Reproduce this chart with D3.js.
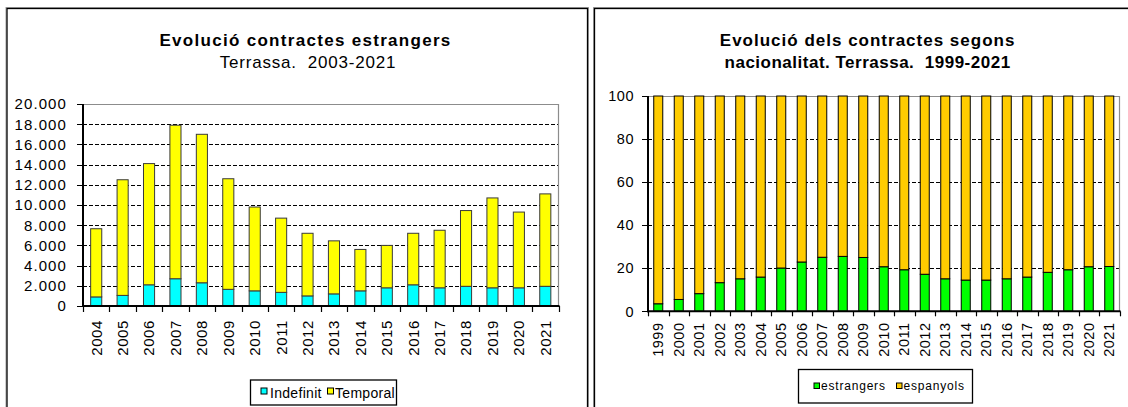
<!DOCTYPE html>
<html>
<head>
<meta charset="utf-8">
<script src="https://cdn.jsdelivr.net/npm/d3@7/dist/d3.min.js"></script>
<style>
  html, body { margin: 0; padding: 0; background: #fff; }
  svg { display: block; font-family: "Liberation Sans", Arial, sans-serif; }
</style>
</head>
<body>
<svg id="chart" width="1128" height="407"></svg>
<script>
// ---------- DATA ----------
const yearsLeft = ["2004","2005","2006","2007","2008","2009","2010","2011","2012","2013","2014","2015","2016","2017","2018","2019","2020","2021"];
const indefinit = [900,1050,2100,2700,2300,1650,1500,1350,1000,1200,1500,1800,2100,1800,1950,1800,1800,1950];
const temporal  = [6750,11450,12000,15200,14700,10950,8300,7350,6200,5250,4100,4200,5100,5700,7500,8900,7500,9150];
const leftTicks = [0,2000,4000,6000,8000,10000,12000,14000,16000,18000,20000];

const yearsRight = ["1999","2000","2001","2002","2003","2004","2005","2006","2007","2008","2009","2010","2011","2012","2013","2014","2015","2016","2017","2018","2019","2020","2021"];
const estrangers = [3.5,5.5,8.2,13.3,15.1,15.9,20.1,22.9,25.1,25.5,25.0,20.7,19.3,17.2,15.1,14.5,14.5,15.1,15.9,18.1,19.3,20.7,20.8];
const espanyols  = [96.5,94.5,91.8,86.7,84.9,84.1,79.9,77.1,74.9,74.5,75.0,79.3,80.7,82.8,84.9,85.5,85.5,84.9,84.1,81.9,80.7,79.3,79.2];
const rightTicks = [0,20,40,60,80,100];

// ---------- HELPERS ----------
const svg = d3.select("#chart");
const caLocale = d3.formatLocale({decimal: ",", thousands: ".", grouping: [3], currency: ["", "€"]});
const fmtThousands = caLocale.format(",d");

function panelFrame(x, y, w, h) {
  svg.append("rect").attr("x", x - 1).attr("y", y - 1).attr("width", w + 2).attr("height", h + 2)
    .attr("fill", "none").attr("stroke", "#a0a0a0").attr("stroke-width", 1);
  svg.append("rect").attr("x", x).attr("y", y).attr("width", w).attr("height", h)
    .attr("fill", "#fff").attr("stroke", "#000").attr("stroke-width", 1.3);
}

function drawChart(cfg) {
  const g = svg.append("g");
  const x = d3.scaleBand().domain(cfg.cats).range([cfg.x0, cfg.x1]).padding(0);
  const y = d3.scaleLinear().domain([0, cfg.max]).range([cfg.yb, cfg.yt]);

  // gridlines (dashed) except top
  g.selectAll(".grid").data(cfg.ticks.filter(t => t > 0 && t < cfg.max)).enter()
    .append("line")
    .attr("x1", cfg.x0).attr("x2", cfg.x1)
    .attr("y1", d => Math.round(y(d)) + 0.5).attr("y2", d => Math.round(y(d)) + 0.5)
    .attr("stroke", "#000").attr("stroke-width", 1).attr("stroke-dasharray", "4,2");

  // plot border top & right (gray)
  g.append("path")
    .attr("d", `M${cfg.x0},${Math.round(y(cfg.max)) + 0.5}H${cfg.x1}V${cfg.yb}`)
    .attr("fill", "none").attr("stroke", "#8c8c8c").attr("stroke-width", 1.2);

  // stacked bars
  const stackData = cfg.cats.map((c, i) => {
    const o = {cat: c};
    cfg.series.forEach(s => o[s.key] = s.values[i]);
    return o;
  });
  const stack = d3.stack().keys(cfg.series.map(s => s.key))(stackData);
  const bw = x.bandwidth() * cfg.barFrac;
  stack.forEach((layer, li) => {
    g.selectAll(".bar" + li).data(layer).enter().append("rect")
      .attr("x", d => x(d.data.cat) + (x.bandwidth() - bw) / 2)
      .attr("width", bw)
      .attr("y", d => y(d[1]))
      .attr("height", d => y(d[0]) - y(d[1]))
      .attr("fill", cfg.series[li].color)
      .attr("stroke", cfg.barStroke).attr("stroke-width", 1);
  });

  // y axis
  g.append("line").attr("x1", cfg.x0).attr("x2", cfg.x0).attr("y1", y(cfg.max)).attr("y2", cfg.yb + 1)
    .attr("stroke", "#000").attr("stroke-width", 2);
  g.selectAll(".ytick").data(cfg.ticks).enter().append("line")
    .attr("x1", cfg.x0 - cfg.ytickLen).attr("x2", cfg.x0)
    .attr("y1", d => Math.round(y(d)) + 0.5).attr("y2", d => Math.round(y(d)) + 0.5)
    .attr("stroke", "#000").attr("stroke-width", 1);
  g.selectAll(".ylab").data(cfg.ticks).enter().append("text")
    .attr("x", cfg.ylabX).attr("y", d => y(d)).attr("dy", "0.36em")
    .attr("text-anchor", "end").attr("font-size", cfg.labSize).attr("letter-spacing", cfg.ylabSpacing)
    .attr("fill", "#000")
    .text(d => cfg.fmt(d));

  // x axis
  g.append("line").attr("x1", cfg.x0 - 1).attr("x2", cfg.x1 + 1).attr("y1", cfg.yb).attr("y2", cfg.yb)
    .attr("stroke", "#000").attr("stroke-width", 2);
  const bounds = cfg.cats.map(c => x(c)).concat([cfg.x1]);
  g.selectAll(".xtick").data(bounds).enter().append("line")
    .attr("x1", d => Math.round(d) + 0.5).attr("x2", d => Math.round(d) + 0.5)
    .attr("y1", cfg.yb).attr("y2", cfg.yb + cfg.xtickLen)
    .attr("stroke", "#000").attr("stroke-width", 1.2);
  g.selectAll(".xlab").data(cfg.cats).enter().append("text")
    .attr("transform", d => `translate(${x(d) + x.bandwidth() / 2},${cfg.xlabY}) rotate(-90)`)
    .attr("dy", "0.36em").attr("text-anchor", "end")
    .attr("font-size", cfg.labSize).attr("letter-spacing", cfg.labSpacing)
    .attr("fill", "#000")
    .text(d => d);

  // legend
  const L = cfg.legend;
  g.append("rect").attr("x", L.x).attr("y", L.y).attr("width", L.w).attr("height", L.h)
    .attr("fill", "#fff").attr("stroke", "#000").attr("stroke-width", 1.3);
  cfg.series.forEach((s, i) => {
    const it = L.items[i];
    g.append("rect").attr("x", it.sx).attr("y", L.sy).attr("width", L.ss).attr("height", L.ss)
      .attr("fill", s.color).attr("stroke", "#000").attr("stroke-width", 1);
    g.append("text").attr("x", it.tx).attr("y", L.ty)
      .attr("font-size", L.fs).attr("letter-spacing", L.ls).attr("fill", "#000")
      .text(s.label);
  });

  // titles
  cfg.titles.forEach(t => {
    g.append("text").attr("x", t.x).attr("y", t.y).attr("text-anchor", "middle")
      .attr("font-size", t.fs).attr("font-weight", t.bold ? "bold" : "normal")
      .attr("letter-spacing", t.ls).attr("fill", "#000")
      .attr("xml:space", "preserve").style("white-space", "pre")
      .text(t.text);
  });
}

// ---------- PANELS ----------
panelFrame(7, 8.5, 580.5, 420);
panelFrame(594.5, 8.5, 560, 420);

drawChart({
  cats: yearsLeft, max: 20000, ticks: leftTicks, fmt: d => fmtThousands(d),
  x0: 83, x1: 558.5, yt: 104, yb: 306, barFrac: 0.42, barStroke: "#3a3a3a",
  series: [
    {key: "ind", label: "Indefinit", values: indefinit, color: "#00ffff"},
    {key: "tem", label: "Temporal", values: temporal, color: "#ffff00"}
  ],
  ytickLen: 6, xtickLen: 6, ylabX: 67, xlabY: 320, labSize: "15px", labSpacing: "0.6px", ylabSpacing: "1.1px",
  legend: {x: 250.5, y: 380, w: 146, h: 25, sy: 388, ss: 6, ty: 397.5, fs: "14px", ls: "0.3px",
           items: [{sx: 261, tx: 270}, {sx: 327.5, tx: 335}]},
  titles: [
    {text: "Evolució contractes estrangers", x: 305.5, y: 45.5, fs: "17px", bold: true, ls: "1.3px"},
    {text: "Terrassa.  2003-2021", x: 308, y: 67.5, fs: "17px", bold: false, ls: "0.8px"}
  ]
});

drawChart({
  cats: yearsRight, max: 100, ticks: rightTicks, fmt: d => String(d),
  x0: 648, x1: 1119.5, yt: 96, yb: 311.3, barFrac: 0.44, barStroke: "#000",
  series: [
    {key: "est", label: "estrangers", values: estrangers, color: "#00ff00"},
    {key: "esp", label: "espanyols", values: espanyols, color: "#ffcc00"}
  ],
  ytickLen: 6, xtickLen: 5, ylabX: 634, xlabY: 322.5, labSize: "14.5px", labSpacing: "0.5px", ylabSpacing: "0.5px",
  legend: {x: 798.5, y: 369.5, w: 174, h: 33.5, sy: 383, ss: 5.5, ty: 390, fs: "12px", ls: "0.8px",
           items: [{sx: 814, tx: 821}, {sx: 896.5, tx: 903.5}]},
  titles: [
    {text: "Evolució dels contractes segons", x: 867.6, y: 45.5, fs: "17px", bold: true, ls: "1px"},
    {text: "nacionalitat. Terrassa.  1999-2021", x: 867.6, y: 68, fs: "17px", bold: true, ls: "0.5px"}
  ]
});
</script>
</body>
</html>
